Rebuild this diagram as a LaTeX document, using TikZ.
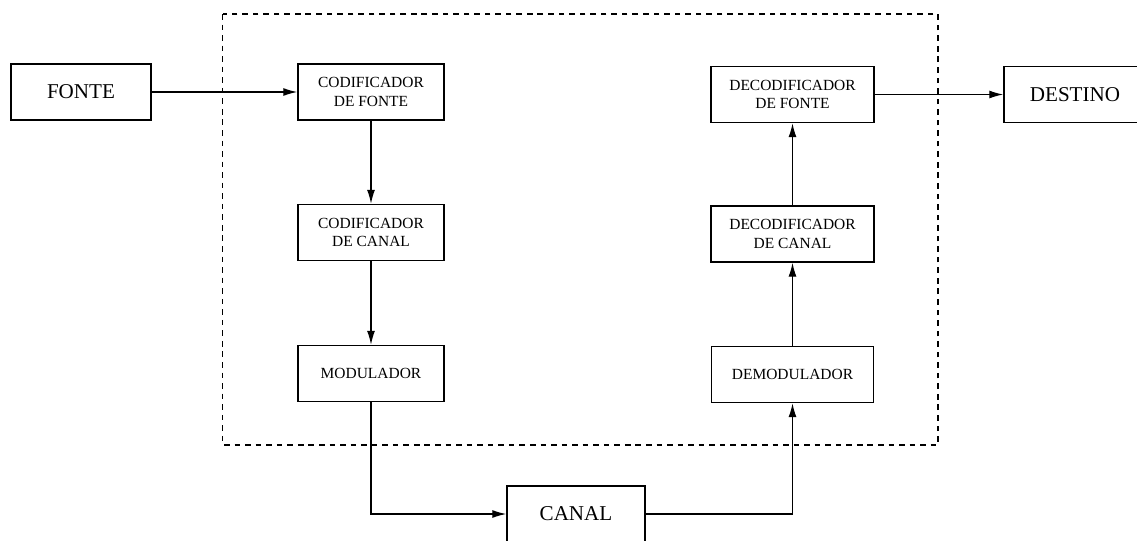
\documentclass[tikz,border=0pt]{standalone}
\usepackage{fontspec}
\setmainfont{Liberation Serif}
\usetikzlibrary{arrows.meta}

\begin{document}
\begin{tikzpicture}[x=0.025cm, y=-0.025cm,
		bloco/.style={draw, line width=1pt, rectangle, inner sep=0pt, minimum height=1.4cm, align=center, font=\fontsize{11}{13}\selectfont},
		grande/.style={bloco, font=\fontsize{15}{18}\selectfont},
		seta/.style={-{Latex[length=3.5mm, width=2mm]}, line width=0.9pt}]
	\useasboundingbox (0, 0) rectangle (1137, 540);
	% caixa tracejada
	\draw[line width=1pt, dash pattern=on 4pt off 3.5pt] (222.7, 14) rectangle (938, 445);
	% blocos
	\node[grande, minimum width=3.5cm] (fonte) at (81, 92) {FONTE};
	\node[bloco, minimum width=3.65cm] (codfonte) at (371, 92) {CODIFICADOR\\DE FONTE};
	\node[bloco, minimum width=3.65cm] (codcanal) at (371, 232.5) {CODIFICADOR\\DE CANAL};
	\node[bloco, minimum width=3.65cm] (modulador) at (371, 373.5) {MODULADOR};
	\node[grande, minimum width=3.45cm] (canal) at (576, 514) {CANAL};
	\node[bloco, minimum width=4.05cm] (demodulador) at (792.5, 374.5) {DEMODULADOR};
	\node[bloco, minimum width=4.075cm] (deccanal) at (792.5, 234) {DECODIFICADOR\\DE CANAL};
	\node[bloco, minimum width=4.075cm] (decfonte) at (792.5, 94.5) {DECODIFICADOR\\DE FONTE};
	\node[grande, minimum width=3.55cm] (destino) at (1075, 94.5) {DESTINO};
	% ligacoes
	\draw[seta] (fonte) -- (codfonte);
	\draw[seta] (codfonte) -- (codcanal);
	\draw[seta] (codcanal) -- (modulador);
	\draw[seta] (modulador.south) |- (canal.west);
	\draw[seta] (canal.east) -| (demodulador.south);
	\draw[seta] (demodulador) -- (deccanal);
	\draw[seta] (deccanal) -- (decfonte);
	\draw[seta] (decfonte) -- (destino);
\end{tikzpicture}
\end{document}
